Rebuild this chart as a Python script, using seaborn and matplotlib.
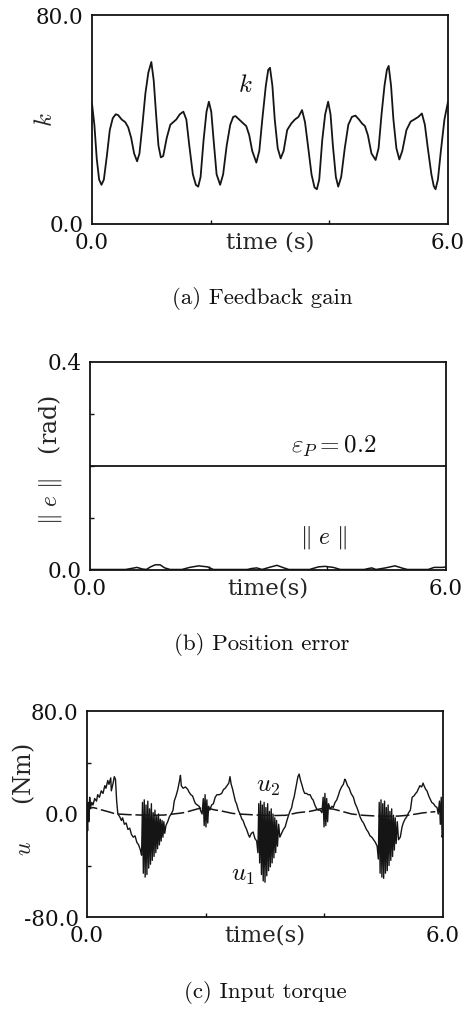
import numpy as np
import pandas as pd
import seaborn as sns
import matplotlib
matplotlib.use("Agg")
import matplotlib.pyplot as plt
from matplotlib.ticker import FixedLocator, NullFormatter

# ---------------- data ----------------
# (a) feedback gain k(t)
t_k = [0.00, 0.04, 0.08, 0.12, 0.16, 0.20, 0.25, 0.30, 0.35, 0.40, 0.44, 0.50, 0.56, 0.61,
       0.66, 0.71, 0.76, 0.80, 0.85, 0.90, 0.95, 1.00, 1.04, 1.08, 1.12, 1.16, 1.20, 1.26,
       1.32, 1.37, 1.42, 1.48, 1.54, 1.59, 1.64, 1.70, 1.75, 1.79, 1.83, 1.88, 1.93, 1.97,
       2.01, 2.05, 2.10, 2.16, 2.21, 2.27, 2.33, 2.38, 2.42, 2.48, 2.55, 2.60, 2.65, 2.70,
       2.77, 2.82, 2.87, 2.93, 2.97, 3.00, 3.04, 3.08, 3.13, 3.18, 3.23, 3.29, 3.36, 3.42,
       3.48, 3.54, 3.59, 3.64, 3.70, 3.75, 3.79, 3.83, 3.88, 3.93, 3.98, 4.02, 4.06, 4.11,
       4.15, 4.20, 4.26, 4.32, 4.38, 4.44, 4.50, 4.55, 4.60, 4.65, 4.71, 4.78, 4.83, 4.88,
       4.93, 4.97, 5.00, 5.04, 5.08, 5.13, 5.18, 5.23, 5.30, 5.37, 5.43, 5.50, 5.56, 5.61,
       5.66, 5.72, 5.76, 5.79, 5.83, 5.88, 5.94, 6.00]
k_vals = [46, 38, 25, 17, 15, 17, 26, 36, 40.5, 42, 41.7, 40, 39, 37,
          33, 27, 24, 27, 38, 50, 58, 62, 55, 42, 30, 25.5, 26, 33,
          38, 39, 40, 42, 43, 40, 30, 19, 15, 14.3, 18, 32, 43, 46.8,
          43, 32, 19, 15, 19, 30, 38, 41, 41.3, 40, 38.5, 37.5, 34, 28,
          23.5, 28, 40, 53, 59, 59.8, 53, 40, 29, 25.1, 28, 36, 38.5, 40,
          41, 43.6, 39, 30, 19, 14, 13.3, 17, 32, 42, 46.8, 42, 30, 18,
          14.3, 18, 29, 38, 41, 41.5, 40, 38.5, 37.5, 34, 27, 24.5, 29, 42,
          53, 59, 60.5, 53, 40, 29, 24.7, 28, 36, 39.2, 40, 41, 42.3, 38,
          29, 19, 14.5, 13.3, 17, 28, 40, 46.8]

# (b) position error norm and its bound
t_e = [0.00, 0.60, 0.70, 0.79, 0.88, 0.95, 1.02, 1.10, 1.18, 1.26, 1.35, 1.55, 1.68, 1.83,
       1.98, 2.08, 2.65, 2.73, 2.81, 2.90, 3.02, 3.15, 3.27, 3.35, 3.70, 3.85, 3.96, 4.10,
       4.22, 4.62, 4.70, 4.75, 4.82, 4.98, 5.14, 5.28, 5.35, 5.70, 5.80, 5.95, 6.00]
e_norm = [0.001, 0.001, 0.003, 0.005, 0.002, 0.001, 0.006, 0.010, 0.010, 0.004, 0.001, 0.001,
          0.005, 0.008, 0.006, 0.001, 0.001, 0.003, 0.004, 0.001, 0.005, 0.009, 0.004, 0.001,
          0.001, 0.006, 0.007, 0.005, 0.001, 0.001, 0.003, 0.004, 0.001, 0.004, 0.008, 0.003,
          0.001, 0.001, 0.005, 0.005, 0.006]
eps_p = 0.2

# (c) input torques u1, u2
t_u1 = [0.00, 0.01, 0.02, 0.03, 0.045, 0.06, 0.08, 0.10, 0.13, 0.16, 0.18, 0.21, 0.24, 0.27,
        0.30, 0.32, 0.35, 0.37, 0.40, 0.41, 0.44, 0.46, 0.48, 0.50, 0.52, 0.55, 0.58, 0.60,
        0.63, 0.66, 0.69, 0.72, 0.75, 0.78, 0.81, 0.84, 0.87, 0.90,
        0.92, 0.935, 0.95, 0.965, 0.98, 0.995, 1.01, 1.025, 1.04, 1.055, 1.07, 1.085, 1.10,
        1.115, 1.13, 1.145, 1.16, 1.175, 1.19, 1.205, 1.22, 1.235, 1.25, 1.265, 1.28, 1.295,
        1.31, 1.33, 1.36, 1.39, 1.42, 1.45, 1.47, 1.50, 1.53, 1.56, 1.575, 1.59, 1.62, 1.66,
        1.70, 1.72, 1.75, 1.78, 1.81, 1.83, 1.86, 1.89, 1.92, 1.94, 1.96, 1.975, 1.99, 2.005,
        2.02, 2.035, 2.05, 2.07, 2.10, 2.13, 2.16, 2.19, 2.23, 2.27, 2.30, 2.33, 2.36, 2.39,
        2.41, 2.43, 2.45, 2.47, 2.50, 2.52, 2.55, 2.58, 2.61, 2.63, 2.66, 2.69, 2.72, 2.74,
        2.77, 2.80, 2.83, 2.86,
        2.88, 2.895, 2.91, 2.925, 2.94, 2.955, 2.97, 2.985, 3.00, 3.015, 3.03, 3.045, 3.06,
        3.075, 3.09, 3.105, 3.12, 3.135, 3.15, 3.165, 3.18, 3.195, 3.21, 3.23, 3.25, 3.28,
        3.31, 3.34, 3.37, 3.39, 3.42, 3.45, 3.47, 3.49, 3.51, 3.53, 3.555, 3.575, 3.60, 3.62,
        3.65, 3.67, 3.70, 3.73, 3.76, 3.79, 3.81, 3.84, 3.87, 3.90, 3.93, 3.96, 3.98, 3.995,
        4.01, 4.025, 4.04, 4.055, 4.07, 4.10, 4.13, 4.15, 4.18, 4.21, 4.24, 4.26, 4.29, 4.32,
        4.345, 4.36, 4.39, 4.42, 4.45, 4.49, 4.52, 4.55, 4.58, 4.60, 4.63, 4.66, 4.69, 4.71,
        4.74, 4.77, 4.80, 4.83, 4.86, 4.89,
        4.91, 4.925, 4.94, 4.955, 4.97, 4.985, 5.00, 5.015, 5.03, 5.045, 5.06, 5.075, 5.09,
        5.105, 5.12, 5.135, 5.15, 5.165, 5.18, 5.195, 5.21, 5.23, 5.25, 5.28, 5.31, 5.33,
        5.36, 5.39, 5.42, 5.45, 5.48, 5.51, 5.54, 5.56, 5.59, 5.61, 5.64, 5.665, 5.68, 5.71,
        5.73, 5.76, 5.78, 5.81, 5.84, 5.87, 5.90, 5.92, 5.94, 5.955, 5.97, 5.985, 6.00]
u1 = [0, -13, 9, -6, 13, 5, 9, 7, 12, 10, 15, 13, 18, 16,
      22, 20, 26, 23, 28, 18, 24, 29, 27, 10, 0, -2, -5, -3,
      -8, -7, -12, -11, -16, -18, -17, -22, -24, -28,
      -32, 9, -46, 11, -49, 7, -47, 10, -42, 4, -39, 8, -36,
      1, -33, 3, -30, -2, -27, 0, -24, -4, -21, -5, -18, -6,
      -15, -9, -6, -2, 0, 3, 10, 14, 19, 26, 30, 22, 20, 21,
      19, 17, 15, 14, 10, 8, 7, 6, 2, 0, 12, -9, 15, -10,
      11, -7, 6, 3, 7, 8, 13, 15, 15, 16, 19, 20, 22, 24,
      29, 23, 20, 16, 10, 8, 3, 0, -4, -5, -9, -12, -16, -18,
      -15, -14, -19, -21,
      -30, 8, -38, 10, -47, 7, -52, 9, -53, 5, -48, 8, -44,
      2, -41, 4, -38, 0, -34, -3, -30, -5, -25, -8, -18, -15,
      -12, -10, -5, -2, 2, 5, 10, 13, 18, 23, 29, 31, 26, 23,
      18, 16, 16, 15, 15, 12, 11, 7, 4, 3, 3, 1, 13, -10,
      16, -9, 12, -6, 8, 4, 6, 5, 9, 11, 15, 18, 21, 23,
      27, 26, 22, 20, 16, 13, 8, 5, 1, -2, -5, -7, -10, -12,
      -14, -17, -18, -20, -22, -25,
      -35, 9, -46, 11, -49, 8, -50, 10, -46, 5, -44, 7, -40,
      2, -36, 4, -33, -1, -28, -3, -23, -6, -20, -18, -10, -7,
      -4, -2, 1, 3, 13, 14, 16, 17, 20, 22, 21, 24, 22, 19,
      18, 14, 12, 9, 8, 6, 5, 0, 10, -8, 13, -18, -15]

t_u2 = [0.00, 0.03, 0.06, 0.10, 0.15, 0.22, 0.30, 0.38, 0.45, 0.52, 0.70, 0.90, 1.10, 1.30,
        1.45, 1.55, 1.65, 1.75, 1.85, 1.95, 2.00, 2.08, 2.15, 2.25, 2.35, 2.45, 2.55, 2.75,
        2.95, 3.15, 3.35, 3.45, 3.55, 3.65, 3.75, 3.85, 3.93, 4.00, 4.07, 4.15, 4.22, 4.30,
        4.38, 4.46, 4.65, 4.85, 5.05, 5.25, 5.40, 5.55, 5.65, 5.75, 5.87]
u2 = [0, 3, 4.5, 5, 4.5, 3.5, 2.5, 1.5, 0.5, 0, -0.5, -0.8, -1, -0.8,
      0, 0.5, 1.2, 2.5, 3.8, 5, 5.5, 4, 3.2, 2.5, 1.5, 0.5, 0, -0.5,
      -1, -1.2, -1, 0, 1, 1.5, 2, 3, 4, 4.5, 4.2, 3.8, 3, 2,
      1, 0, -1, -1.5, -1.8, -1.6, -1, 0, 0.8, 1.3, 1.8]

# ---------------- style ----------------
sns.set_theme(style="ticks")
plt.rcParams.update({
    "font.family": ["DejaVu Serif"],
    "mathtext.fontset": "cm",
    "axes.unicode_minus": False,
    "axes.edgecolor": "#111111",
    "axes.linewidth": 1.3,
    "xtick.direction": "in",
    "ytick.direction": "in",
    "xtick.color": "#111111",
    "ytick.color": "#111111",
    "text.color": "#111111",
})

W, H = 465, 1010
fig = plt.figure(figsize=(W / 100, H / 100), dpi=100)
fig.patch.set_facecolor("white")


def make_axes(left, top, right, bottom):
    return fig.add_axes([left / W, 1 - bottom / H, (right - left) / W, (bottom - top) / H])


TICK_FS = 15.5
LINE_C = "#151515"


def style_axes(ax, ymajor, ylabels, yminor, xlabel):
    ax.set_xlim(0, 6)
    ax.set_ylim(ymajor[0], ymajor[-1])
    ax.xaxis.set_major_locator(FixedLocator([0.0, 6.0]))
    ax.set_xticklabels(["0.0", "6.0"])
    ax.xaxis.set_minor_locator(FixedLocator([2.0, 4.0]))
    ax.yaxis.set_major_locator(FixedLocator(ymajor))
    ax.set_yticklabels(ylabels)
    ax.yaxis.set_minor_locator(FixedLocator(yminor))
    ax.xaxis.set_minor_formatter(NullFormatter())
    ax.yaxis.set_minor_formatter(NullFormatter())
    ax.tick_params(which="major", length=0, pad=6, labelsize=TICK_FS)
    ax.tick_params(which="minor", length=3, width=1.0)
    for s in ax.spines.values():
        s.set_visible(True)
        s.set_linewidth(1.3)
    ax.set_xlabel(xlabel, fontsize=16.5)
    ax.xaxis.set_label_coords(0.5, -0.035)
    ax.xaxis.label.set_va("top")
    ax.set_facecolor("white")


# ---- (a) Feedback gain ----
ax1 = make_axes(92, 15, 448, 224)
df_k = pd.DataFrame({"t": t_k, "k": k_vals})
sns.lineplot(data=df_k, x="t", y="k", ax=ax1, color=LINE_C, lw=1.3, estimator=None, sort=False)
style_axes(ax1, [0, 80], ["0.0", "80.0"], [], "time (s)")
ax1.set_ylabel(r"$k$", fontsize=18)
ax1.yaxis.set_label_coords(-0.098, 0.5)
ax1.text(2.58, 53, r"$k$", fontsize=18, ha="center", va="center")

# ---- (b) Position error ----
ax2 = make_axes(90, 362, 446, 570)
df_e = pd.DataFrame({"t": t_e, "e": e_norm})
sns.lineplot(data=df_e, x="t", y="e", ax=ax2, color=LINE_C, lw=1.1, estimator=None, sort=False)
sns.lineplot(x=[0.0, 6.0], y=[eps_p, eps_p], ax=ax2, color=LINE_C, lw=1.3, estimator=None)
style_axes(ax2, [0.0, 0.4], ["0.0", "0.4"], [0.1, 0.2, 0.3], "time(s)")
ax2.set_ylabel(r"$\Vert\ e\ \Vert$   (rad)", fontsize=17)
ax2.yaxis.set_label_coords(-0.072, 0.53)
ax2.text(4.1, 0.237, r"$\varepsilon_P = 0.2$", fontsize=18, ha="center", va="center")
ax2.text(3.93, 0.062, r"$\Vert\ e\ \Vert$", fontsize=17, ha="center", va="center")

# ---- (c) Input torque ----
ax3 = make_axes(87, 711, 443, 917)
df_u1 = pd.DataFrame({"t": t_u1, "u": u1})
df_u2 = pd.DataFrame({"t": t_u2, "u": u2})
sns.lineplot(data=df_u2, x="t", y="u", ax=ax3, color=LINE_C, lw=1.1, estimator=None,
             sort=False, linestyle=(0, (9, 2.5)))
sns.lineplot(data=df_u1, x="t", y="u", ax=ax3, color=LINE_C, lw=1.0, estimator=None, sort=False)
style_axes(ax3, [-80, 0, 80], ["-80.0", "0.0", "80.0"], [-40, 40], "time(s)")
ax3.set_ylabel(r"$u$     (Nm)", fontsize=17)
ax3.yaxis.set_label_coords(-0.14, 0.57)
ax3.text(3.05, 21.5, r"$u_2$", fontsize=18, ha="center", va="center")
ax3.text(2.63, -48, r"$u_1$", fontsize=18, ha="center", va="center")

# ---- captions ----
cap_kw = dict(ha="center", va="center", fontsize=16.5, family=["cmr10", "DejaVu Serif"])
fig.text(262 / W, 1 - 298 / H, "(a) Feedback gain", **cap_kw)
fig.text(262 / W, 1 - 645 / H, "(b) Position error", **cap_kw)
fig.text(265 / W, 1 - 993 / H, "(c) Input torque", **cap_kw)

fig.savefig("out.png", dpi=100, facecolor="white")
